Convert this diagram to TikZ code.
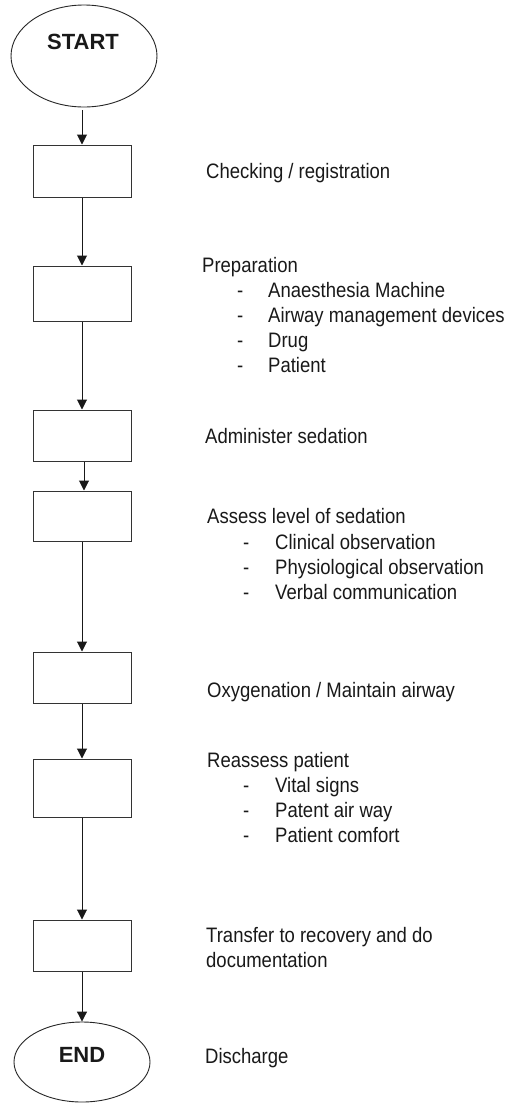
\documentclass[tikz,border=0pt]{standalone}
\usepackage{fontspec}
\setmainfont{Liberation Sans}
\usetikzlibrary{shapes.geometric,arrows.meta}
\newcommand\stretchtxt[1]{\scalebox{1}[1.13]{#1}}
\tikzset{
  stepbox/.style={draw=black!80, line width=1pt, rectangle, minimum width=98pt, inner sep=0pt},
  term/.style={draw=black!85, line width=0.9pt, ellipse, inner sep=0pt},
  termtxt/.style={anchor=base, inner sep=0pt, text=black!90, font=\fontsize{22}{26}\selectfont\bfseries},
  arr/.style={draw=black!90, line width=1pt, -{Triangle[length=10pt,width=10pt]}},
  lbl/.style={anchor=base west, inner sep=0pt, text=black!90, font=\fontsize{18.5}{22}\selectfont},
}
\begin{document}
\begin{tikzpicture}[x=1pt,y=-1pt]
  \useasboundingbox (0,0) rectangle (509,1104);
  \fill[white] (0,0) rectangle (509,1104);

  % terminals
  \node[term, minimum width=146pt, minimum height=102pt] (start) at (84,56) {};
  \node[termtxt] (starttxt) at (83,49) {START};
  \node[term, minimum width=136pt, minimum height=80pt] (end) at (82,1062) {};
  \node[termtxt] (endtxt) at (82,1062) {END};

  % process boxes
  \node[stepbox, minimum height=52pt] (b1) at (82,171) {};
  \node[stepbox, minimum height=55pt] (b2) at (82,293.5) {};
  \node[stepbox, minimum height=51pt] (b3) at (82,435.5) {};
  \node[stepbox, minimum height=50pt] (b4) at (82,516) {};
  \node[stepbox, minimum height=51pt] (b5) at (82,677.5) {};
  \node[stepbox, minimum height=58pt] (b6) at (82,788) {};
  \node[stepbox, minimum height=51pt] (b7) at (82,945.5) {};

  % flow
  \draw[arr, shorten <=3pt] (start.south -| b1.north) -- (b1.north);
  \draw[arr] (b1.south) -- (b2.north);
  \draw[arr] (b2.south) -- (b3.north);
  \draw[arr] ([xshift=2pt]b3.south) -- ([xshift=2pt]b4.north);
  \draw[arr] (b4.south) -- (b5.north);
  \draw[arr] (b5.south) -- (b6.north);
  \draw[arr] (b6.south) -- (b7.north);
  \draw[arr] (b7.south) -- (end.north);

  % step descriptions
  \node[lbl] (t1) at (206,178) {\stretchtxt{Checking / registration}};

  \node[lbl] (t2) at (202,272) {\stretchtxt{Preparation}};
  \node[lbl] (t2d1) at (237,297) {\stretchtxt{-}};
  \node[lbl] (t2a) at (268,297) {\stretchtxt{Anaesthesia Machine}};
  \node[lbl] (t2d2) at (237,322) {\stretchtxt{-}};
  \node[lbl] (t2b) at (268,322) {\stretchtxt{Airway management devices}};
  \node[lbl] (t2d3) at (237,347) {\stretchtxt{-}};
  \node[lbl] (t2c) at (268,347) {\stretchtxt{Drug}};
  \node[lbl] (t2d4) at (237,372) {\stretchtxt{-}};
  \node[lbl] (t2e) at (268,372) {\stretchtxt{Patient}};

  \node[lbl] (t3) at (205,443) {\stretchtxt{Administer sedation}};

  \node[lbl] (t4) at (207,523) {\stretchtxt{Assess level of sedation}};
  \node[lbl] (t4d1) at (243,549) {\stretchtxt{-}};
  \node[lbl] (t4a) at (275,549) {\stretchtxt{Clinical observation}};
  \node[lbl] (t4d2) at (243,574) {\stretchtxt{-}};
  \node[lbl] (t4b) at (275,574) {\stretchtxt{Physiological observation}};
  \node[lbl] (t4d3) at (243,599) {\stretchtxt{-}};
  \node[lbl] (t4c) at (275,599) {\stretchtxt{Verbal communication}};

  \node[lbl] (t5) at (207,697) {\stretchtxt{Oxygenation / Maintain airway}};

  \node[lbl] (t6) at (207,767) {\stretchtxt{Reassess patient}};
  \node[lbl] (t6d1) at (243,792) {\stretchtxt{-}};
  \node[lbl] (t6a) at (275,792) {\stretchtxt{Vital signs}};
  \node[lbl] (t6d2) at (243,817) {\stretchtxt{-}};
  \node[lbl] (t6b) at (275,817) {\stretchtxt{Patent air way}};
  \node[lbl] (t6d3) at (243,842) {\stretchtxt{-}};
  \node[lbl] (t6c) at (275,842) {\stretchtxt{Patient comfort}};

  \node[lbl] (t7) at (206,942) {\stretchtxt{Transfer to recovery and do}};
  \node[lbl] (t7b) at (206,967) {\stretchtxt{documentation}};

  \node[lbl] (t8) at (205,1063) {\stretchtxt{Discharge}};
\end{tikzpicture}
\end{document}
